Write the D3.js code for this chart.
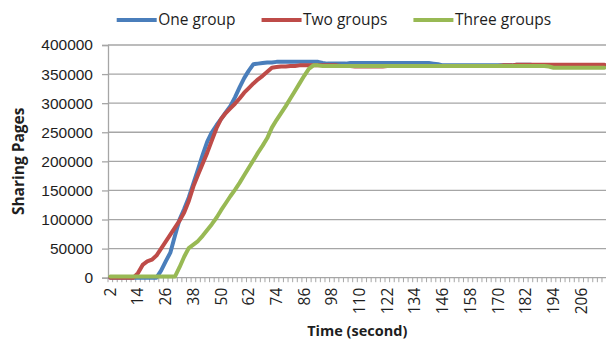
<!DOCTYPE html>
<html>
<head>
<meta charset="utf-8">
<script src="https://cdn.jsdelivr.net/npm/d3@7"></script>
<style>
  body { margin: 0; background: #fff; }
  svg { display: block; font-family: "Open Sans", "Noto Sans", sans-serif; }
</style>
</head>
<body>
<div id="chart"></div>
<script>
// time in seconds, one category every 2 s
const times = d3.range(2, 217, 2)

const seriesNames = ['One group', 'Two groups', 'Three groups']
const seriesColors = ['#4a7ebb', '#be4b48', '#98b954']

const oneGroup = [
  0, 0, 0, 0, 0, 0, 0, 0, 0, 0,
  0, 12000, 28000, 43000, 72000, 100000, 118000, 138000, 162000, 186000,
  211000, 234000, 250000, 262000, 273000, 284000, 295000, 310000, 327000, 343000,
  356000, 367000, 368000, 369000, 370000, 370000, 371000, 371000, 371000, 371000,
  371000, 371000, 371000, 371000, 371000, 371000, 369000, 368000, 368000, 368000,
  368000, 368000, 369000, 369000, 369000, 369000, 369000, 369000, 369000, 369000,
  369000, 369000, 369000, 369000, 369000, 369000, 369000, 369000, 369000, 369000,
  368000, 367000, 365000, 365000, 365000, 365000, 365000, 365000, 365000, 365000,
  365000, 365000, 365000, 365000, 365000, 365000, 365000, 365000, 366000, 366000,
  366000, 366000, 365000, 365000, 365000, 365000, 365000, 365000, 365000, 365000,
  365000, 365000, 365000, 365000, 365000, 365000, 365000, 365000
]

const twoGroups = [
  0, 0, 0, 0, 0, 0, 8000, 22000, 28000, 31000,
  38000, 50000, 62000, 74000, 86000, 98000, 112000, 132000, 157000, 177000,
  196000, 215000, 236000, 257000, 273000, 283000, 291000, 299000, 308000, 318000,
  326000, 334000, 341000, 347000, 354000, 361000, 362000, 363000, 363000, 364000,
  364000, 365000, 365000, 365000, 365000, 365000, 365000, 365000, 365000, 365000,
  364000, 364000, 364000, 363000, 363000, 363000, 363000, 363000, 363000, 363000,
  364000, 364000, 364000, 364000, 364000, 364000, 364000, 364000, 364000, 364000,
  364000, 364000, 364000, 364000, 364000, 364000, 364000, 364000, 364000, 364000,
  364000, 364000, 364000, 364000, 364000, 365000, 365000, 365000, 366000, 366000,
  366000, 366000, 366000, 366000, 366000, 366000, 366000, 366000, 366000, 366000,
  366000, 366000, 366000, 366000, 366000, 366000, 366000, 366000
]

const threeGroups = [
  2000, 2000, 2000, 2000, 2000, 2000, 2000, 2000, 2000, 2000,
  2000, 2000, 2000, 2000, 2000, 18000, 36000, 51000, 57000, 63000,
  72000, 82000, 92000, 103000, 116000, 128000, 140000, 151000, 163000, 176000,
  189000, 202000, 215000, 227000, 240000, 258000, 271000, 283000, 295000, 308000,
  321000, 334000, 347000, 359000, 365000, 365000, 364000, 364000, 364000, 364000,
  364000, 364000, 364000, 364000, 364000, 364000, 364000, 364000, 364000, 364000,
  364000, 364000, 364000, 364000, 364000, 364000, 364000, 364000, 364000, 364000,
  364000, 364000, 364000, 364000, 364000, 364000, 364000, 364000, 364000, 364000,
  364000, 364000, 364000, 364000, 364000, 364000, 364000, 364000, 364000, 364000,
  364000, 364000, 364000, 364000, 364000, 363000, 361000, 361000, 361000, 361000,
  361000, 361000, 361000, 361000, 361000, 361000, 361000, 361000
]

const xTickLabels = [2, 14, 26, 38, 50, 62, 74, 86, 98, 110, 122, 134, 146, 158, 170, 182, 194, 206]
const yTicks = [0, 50000, 100000, 150000, 200000, 250000, 300000, 350000, 400000]

const width = 606
const height = 341
const margin = { top: 45, right: 0, bottom: 63.3, left: 108 }
const plotRight = 606.6

const series = [oneGroup, twoGroups, threeGroups].map((values, k) => ({
  name: seriesNames[k],
  color: seriesColors[k],
  values: values.map((v, i) => ({ t: times[i], v: v }))
}))

const svg = d3.select('#chart').append('svg')
  .attr('width', width)
  .attr('height', height)

const x = d3.scaleBand()
  .domain(times)
  .range([margin.left, plotRight])
  .padding(0)

const y = d3.scaleLinear()
  .domain([0, 400000])
  .range([height - margin.bottom, margin.top])

const gridColor = '#a6a6a6'
const textColor = '#1e1e1e'

// --- gridlines ---
svg.append('g')
  .selectAll('line')
  .data(yTicks.slice(1))
  .join('line')
    .attr('x1', margin.left)
    .attr('x2', plotRight)
    .attr('y1', d => y(d))
    .attr('y2', d => y(d))
    .attr('stroke', gridColor)
    .attr('stroke-width', 1.3)

// --- y axis ---
const yAxis = svg.append('g')
  .attr('transform', `translate(${margin.left},0)`)
  .call(d3.axisLeft(y).tickValues(yTicks).tickSize(6).tickPadding(9).tickFormat(d3.format('d')))
yAxis.select('.domain').attr('stroke', gridColor).attr('stroke-width', 1.3)
yAxis.selectAll('.tick line').attr('stroke', gridColor).attr('stroke-width', 1.3)
yAxis.selectAll('.tick text')
  .attr('fill', textColor)
  .style('font-size', '15.5px')

// --- x axis (ticks between categories) ---
const y0 = y(0)
const xg = svg.append('g')
xg.append('line')
  .attr('x1', margin.left).attr('x2', plotRight)
  .attr('y1', y0).attr('y2', y0)
  .attr('stroke', gridColor).attr('stroke-width', 1.3)
xg.selectAll('line.tick')
  .data(times.map(t => x(t)).concat([plotRight]))
  .join('line')
    .attr('class', 'tick')
    .attr('x1', d => d).attr('x2', d => d)
    .attr('y1', y0).attr('y2', y0 + 4.5)
    .attr('stroke', gridColor).attr('stroke-width', 1)
xg.selectAll('text')
  .data(xTickLabels)
  .join('text')
    .attr('transform', d => `translate(${x(d) + x.bandwidth() / 2},${y0 + 10}) rotate(-90)`)
    .attr('text-anchor', 'end')
    .attr('dy', '0.35em')
    .attr('fill', textColor)
    .style('font-size', '15.5px')
    .text(d => d)

// --- lines ---
const line = d3.line()
  .x(d => x(d.t) + x.bandwidth() / 2)
  .y(d => y(d.v))

svg.append('g')
  .selectAll('path')
  .data(series)
  .join('path')
    .attr('d', d => line(d.values))
    .attr('fill', 'none')
    .attr('stroke', d => d.color)
    .attr('stroke-width', 4)
    .attr('stroke-linejoin', 'round')
    .attr('stroke-linecap', 'round')

// --- axis titles ---
svg.append('text')
  .attr('transform', `translate(19,${(y(0) + y(400000)) / 2}) rotate(-90)`)
  .attr('text-anchor', 'middle')
  .attr('dy', '0.35em')
  .attr('fill', textColor)
  .style('font-size', '15.5px')
  .style('font-weight', 'bold')
  .text('Sharing Pages')

svg.append('text')
  .attr('x', (margin.left + plotRight) / 2)
  .attr('y', 331)
  .attr('text-anchor', 'middle')
  .attr('dy', '0.35em')
  .attr('fill', textColor)
  .style('font-size', '14.5px')
  .style('font-weight', 'bold')
  .text('Time (second)')

// --- legend ---
const legend = svg.append('g')
let lx = 116.7
series.forEach(s => {
  legend.append('line')
    .attr('x1', lx).attr('x2', lx + 40)
    .attr('y1', 20).attr('y2', 20)
    .attr('stroke', s.color)
    .attr('stroke-width', 4)
  const t = legend.append('text')
    .attr('x', lx + 41.5)
    .attr('y', 20)
    .attr('dy', '0.35em')
    .attr('fill', textColor)
    .style('font-size', '15.5px')
    .text(s.name)
  lx += 41.5 + t.node().getComputedTextLength() + 26
})
</script>
</body>
</html>
